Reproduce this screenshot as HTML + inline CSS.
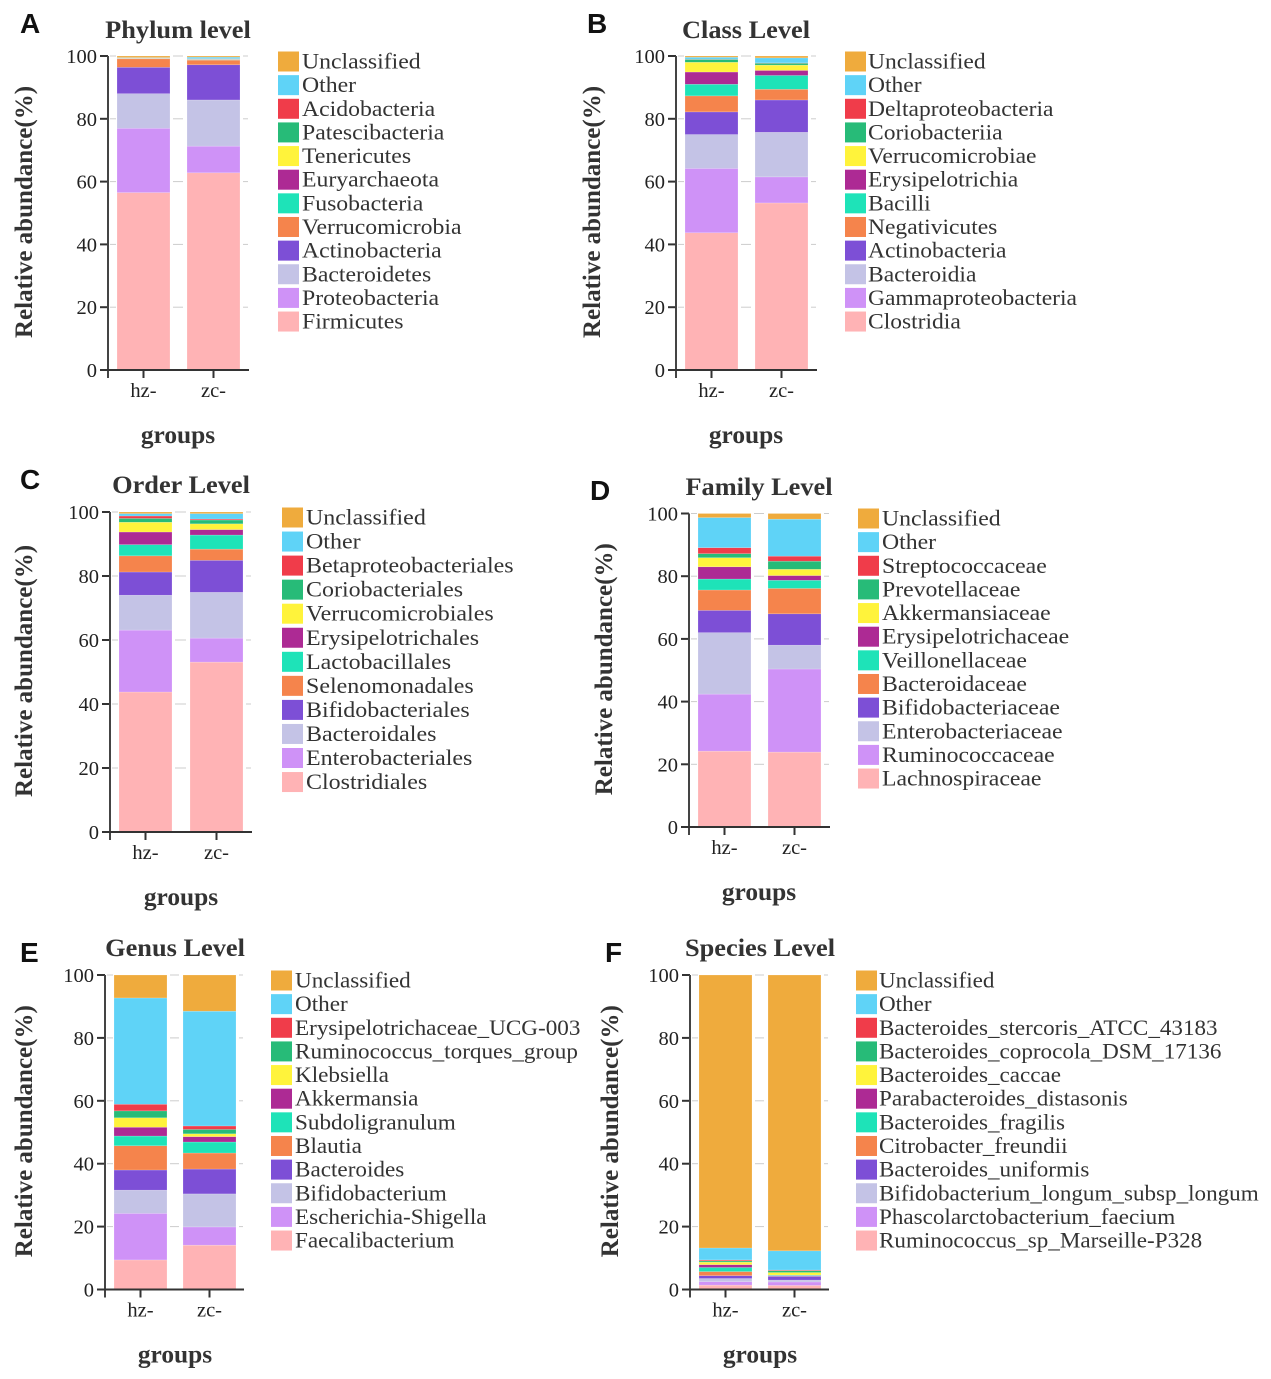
<!DOCTYPE html>
<html lang="en">
<head>
<meta charset="utf-8">
<title>Relative abundance by taxonomic level</title>
<style>
html,body{margin:0;padding:0;background:#fff;}
svg{display:block;font-family:"Liberation Serif",serif;}
</style>
</head>
<body>
<svg id="figure" xmlns="http://www.w3.org/2000/svg" width="1271" height="1379" viewBox="0 0 1271 1379"></svg>
<script>
const yTicks = [0, 20, 40, 60, 80, 100];
const groupNames = ["hz-", "zc-"];
const seriesColors = ["#ffb3b5", "#cf92f7", "#c4c3e6", "#7d4fd6", "#f5844c", "#1ee3b8", "#ad2a94", "#fff33b", "#27bb78", "#f03c4a", "#5fd3f7", "#efab3d"];

const phylumLabels = ["Firmicutes", "Proteobacteria", "Bacteroidetes", "Actinobacteria", "Verrucomicrobia", "Fusobacteria", "Euryarchaeota", "Tenericutes", "Patescibacteria", "Acidobacteria", "Other", "Unclassified"];
const phylumHz = [56.5, 20.5, 11, 8.4, 2.7, 0.05, 0.05, 0.1, 0.05, 0.05, 0.1, 0.5];
const phylumZc = [62.8, 8.5, 14.7, 11.2, 1.5, 0.1, 0.1, 0.1, 0.1, 0.05, 0.5, 0.35];

const classLabels = ["Clostridia", "Gammaproteobacteria", "Bacteroidia", "Actinobacteria", "Negativicutes", "Bacilli", "Erysipelotrichia", "Verrucomicrobiae", "Coriobacteriia", "Deltaproteobacteria", "Other", "Unclassified"];
const classHz = [43.7, 20.5, 10.8, 7.2, 5.1, 3.7, 3.9, 3.1, 0.9, 0.1, 0.6, 0.4];
const classZc = [53.2, 8.3, 14.2, 10.3, 3.4, 4.4, 1.6, 1.7, 0.6, 0.1, 1.6, 0.6];

const orderLabels = ["Clostridiales", "Enterobacteriales", "Bacteroidales", "Bifidobacteriales", "Selenomonadales", "Lactobacillales", "Erysipelotrichales", "Verrucomicrobiales", "Coriobacteriales", "Betaproteobacteriales", "Other", "Unclassified"];
const orderHz = [43.75, 19.35, 10.9, 7.25, 5.05, 3.5, 3.95, 3.05, 1.2, 0.75, 0.75, 0.5];
const orderZc = [53.1, 7.5, 14.3, 10, 3.5, 4.4, 1.7, 1.8, 1.2, 0.3, 1.7, 0.5];

const familyLabels = ["Lachnospiraceae", "Ruminococcaceae", "Enterobacteriaceae", "Bifidobacteriaceae", "Bacteroidaceae", "Veillonellaceae", "Erysipelotrichaceae", "Akkermansiaceae", "Prevotellaceae", "Streptococcaceae", "Other", "Unclassified"];
const familyHz = [24.2, 18.2, 19.6, 7.1, 6.5, 3.5, 3.9, 2.9, 1.3, 1.9, 9.6, 1.3];
const familyZc = [23.9, 26.5, 7.6, 10, 8.1, 2.6, 1.5, 2, 2.6, 1.6, 11.8, 1.8];

const genusLabels = ["Faecalibacterium", "Escherichia-Shigella", "Bifidobacterium", "Bacteroides", "Blautia", "Subdoligranulum", "Akkermansia", "Klebsiella", "Ruminococcus_torques_group", "Erysipelotrichaceae_UCG-003", "Other", "Unclassified"];
const genusHz = [9.4, 14.8, 7.4, 6.4, 7.7, 3.1, 2.8, 3, 2.2, 2.1, 33.8, 7.3];
const genusZc = [14.1, 5.8, 10.5, 7.9, 5.1, 3.5, 1.7, 0.9, 1.4, 1.1, 36.5, 11.5];

const speciesLabels = ["Ruminococcus_sp_Marseille-P328", "Phascolarctobacterium_faecium", "Bifidobacterium_longum_subsp_longum", "Bacteroides_uniformis", "Citrobacter_freundii", "Bacteroides_fragilis", "Parabacteroides_distasonis", "Bacteroides_caccae", "Bacteroides_coprocola_DSM_17136", "Bacteroides_stercoris_ATCC_43183", "Other", "Unclassified"];
const speciesHz = [1.4, 1.1, 1, 0.9, 1.3, 1.3, 0.9, 0.8, 0.4, 0.3, 3.8, 86.8];
const speciesZc = [1.3, 1.1, 0.6, 1.2, 0.1, 0.2, 0.1, 0.8, 0.6, 0.2, 6.1, 87.7];

const NS = "http://www.w3.org/2000/svg";
const figure = document.getElementById("figure");

function make(tag, parent, attrs, content) {
  const el = document.createElementNS(NS, tag);
  for (const k in attrs) el.setAttribute(k, attrs[k]);
  if (content !== undefined) el.textContent = content;
  parent.appendChild(el);
  return el;
}

function drawPanel(p) {
  const slug = p.slug;
  const g = make("g", figure, {});
  
  

  const yScale = v => p.y0 - (v / 100) * (p.y0 - p.y100);
  const xScale = i => p.barStart + i * p.barStep;

  const letter = make("text", g, {x: p.letterX, y: p.letterY, "font-family": '"Liberation Sans",sans-serif', "font-weight": "bold", "font-size": 28, fill: "#111"}, p.letter);
  
  

  const title = make("text", g, {transform: `translate(${p.titleX},${p.titleY}) scale(1.03,1)`, "text-anchor": "middle", "font-weight": "bold", "font-size": 25.6, fill: "#333"}, p.title);
  
  

  const yTitle = make("text", g, {transform: `translate(${p.yTitleX},${(p.y0 + p.y100) / 2 - 1}) rotate(-90)`, "text-anchor": "middle", "font-weight": "bold", "font-size": 25, fill: "#333"}, "Relative abundance(%)");
  
  

  yTicks.forEach(t => {
    const y = yScale(t);
    if (t > 0) {
      [[p.axisX + 2, p.barStart - 1], [xScale(0) + p.barW + 3, xScale(1) - 4], [xScale(1) + p.barW + 3, p.axisEnd]].forEach(seg => {
        const grid = make("line", g, {x1: seg[0], x2: seg[1], y1: y, y2: y, stroke: "#ccc", "stroke-width": 1});
        
        
      });
    }
    const tick = make("line", g, {x1: p.axisX - 8, x2: p.axisX, y1: y, y2: y, stroke: "#333", "stroke-width": 2});
    
    
    const label = make("text", g, {x: p.axisX - 11, y: y + 7, "text-anchor": "end", "font-size": 20.5, fill: "#222"}, String(t));
    
    
  });

  p.values.forEach((vals, i) => {
    let sum = 0;
    vals.forEach((v, s) => {
      const top = yScale(sum + v);
      const bottom = yScale(sum);
      const seg = make("rect", g, {x: xScale(i), y: top, width: p.barW, height: Math.max(bottom - top, 0), fill: seriesColors[s], stroke: "#fff", "stroke-opacity": 0.35, "stroke-width": 0.5});
      
      
      sum += v;
    });
  });

  const yAxis = make("line", g, {x1: p.axisX, x2: p.axisX, y1: p.y100, y2: p.y0 + 8, stroke: "#444", "stroke-width": 2});
  
  
  const xAxis = make("line", g, {x1: p.axisX - 8, x2: p.axisEnd + 1, y1: p.y0, y2: p.y0, stroke: "#333", "stroke-width": 2});
  
  

  groupNames.forEach((name, i) => {
    const cx = xScale(i) + p.barW / 2;
    const tick = make("line", g, {x1: cx, x2: cx, y1: p.y0, y2: p.y0 + 8, stroke: "#333", "stroke-width": 2});
    
    
    const label = make("text", g, {x: cx, y: p.y0 + 27, "text-anchor": "middle", "font-size": 20.5, fill: "#222"}, name);
    
    
  });

  const xTitle = make("text", g, {x: p.titleX, y: p.y0 + 73, "text-anchor": "middle", "font-weight": "bold", "font-size": 25.4, fill: "#333"}, "groups");
  
  

  for (let s = p.labels.length - 1; s >= 0; s--) {
    const row = p.labels.length - 1 - s;
    const cy = p.legendY + row * p.legendStep;
    const entry = make("g", g, {});
    
    
    const swatch = make("rect", entry, {x: p.legendX, y: cy - 10, width: 21, height: 20, fill: seriesColors[s]});
    
    
    const text = make("text", entry, {transform: `translate(${p.legendX + p.legendGap},${cy + 7}) scale(${p.legendScale},1)`, "font-size": 22, fill: "#333"}, p.labels[s]);
    
    
  }
}

drawPanel({slug: "phylum", letter: "A", title: "Phylum level", labels: phylumLabels, values: [phylumHz, phylumZc],
  letterX: 20, letterY: 33, titleX: 178, titleY: 38, yTitleX: 32, axisX: 108, axisEnd: 248, y0: 370, y100: 56,
  barStart: 117, barStep: 70, barW: 53, legendX: 278, legendY: 61.5, legendStep: 23.64, legendGap: 24, legendScale: 1.08});
drawPanel({slug: "class", letter: "B", title: "Class Level", labels: classLabels, values: [classHz, classZc],
  letterX: 587, letterY: 33, titleX: 746, titleY: 38, yTitleX: 600, axisX: 676, axisEnd: 816, y0: 370, y100: 56,
  barStart: 685, barStep: 70, barW: 53, legendX: 845, legendY: 61.5, legendStep: 23.64, legendGap: 23, legendScale: 1.07});
drawPanel({slug: "order", letter: "C", title: "Order Level", labels: orderLabels, values: [orderHz, orderZc],
  letterX: 20, letterY: 489, titleX: 181, titleY: 493, yTitleX: 32, axisX: 110, axisEnd: 251, y0: 832, y100: 512,
  barStart: 119, barStep: 71, barW: 53, legendX: 282, legendY: 517.5, legendStep: 24.05, legendGap: 24, legendScale: 1.09});
drawPanel({slug: "family", letter: "D", title: "Family Level", labels: familyLabels, values: [familyHz, familyZc],
  letterX: 590, letterY: 500, titleX: 759, titleY: 495, yTitleX: 612, axisX: 689, axisEnd: 829, y0: 827, y100: 513.5,
  barStart: 698, barStep: 70, barW: 53, legendX: 858, legendY: 518.5, legendStep: 23.64, legendGap: 24, legendScale: 1.08});
drawPanel({slug: "genus", letter: "E", title: "Genus Level", labels: genusLabels, values: [genusHz, genusZc],
  letterX: 20, letterY: 962, titleX: 175, titleY: 956, yTitleX: 32, axisX: 105, axisEnd: 243, y0: 1289.5, y100: 975,
  barStart: 114, barStep: 69, barW: 53, legendX: 271, legendY: 980.5, legendStep: 23.64, legendGap: 24, legendScale: 1.053});
drawPanel({slug: "species", letter: "F", title: "Species Level", labels: speciesLabels, values: [speciesHz, speciesZc],
  letterX: 605, letterY: 962, titleX: 760, titleY: 956, yTitleX: 618, axisX: 690, axisEnd: 828, y0: 1289.5, y100: 975,
  barStart: 699, barStep: 69, barW: 53, legendX: 856, legendY: 980.5, legendStep: 23.64, legendGap: 23, legendScale: 1.05});
</script>
</body>
</html>
